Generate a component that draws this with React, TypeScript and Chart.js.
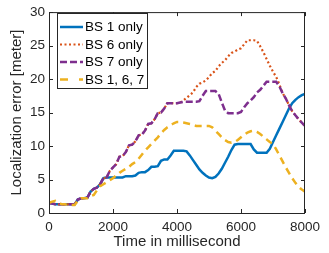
import React, { useEffect, useRef } from "react";
import { Chart, registerables } from "chart.js";

Chart.register(...registerables);

const timeMs = [
  0, 100, 200, 300, 400, 500, 600, 700, 800, 900,
  1000, 1100, 1200, 1300, 1400, 1500, 1600, 1700, 1800, 1900,
  2000, 2100, 2200, 2300, 2400, 2500, 2600, 2700, 2800, 2900,
  3000, 3100, 3200, 3300, 3400, 3500, 3600, 3700, 3800, 3900,
  4000, 4100, 4200, 4300, 4400, 4500, 4600, 4700, 4800, 4900,
  5000, 5100, 5200, 5300, 5400, 5500, 5600, 5700, 5800, 5900,
  6000, 6100, 6200, 6300, 6400, 6500, 6600, 6700, 6800, 6900,
  7000, 7100, 7200, 7300, 7400, 7500, 7600, 7700, 7800, 7900,
  8000,
];

const bs1Only = [
  1.5, 1.4, 1.3, 1.3, 1.3, 1.3, 1.3, 1.3, 1.3, 2.0,
  2.2, 2.2, 2.3, 3.2, 3.6, 3.8, 4.3, 5.2, 5.3, 5.3,
  5.3, 5.3, 5.3, 5.3, 5.5, 5.5, 5.5, 5.6, 6.0, 6.1,
  6.1, 6.4, 6.9, 6.9, 7.0, 7.8, 8.0, 8.0, 8.6, 9.3,
  9.3, 9.3, 9.3, 9.2, 8.6, 7.9, 7.2, 6.5, 6.0, 5.6,
  5.3, 5.2, 5.4, 5.9, 6.6, 7.5, 8.4, 9.4, 10.2, 10.3,
  10.3, 10.3, 10.3, 10.3, 9.5, 9.0, 9.0, 9.0, 9.0, 9.6,
  10.6, 11.6, 12.6, 13.6, 14.6, 15.6, 16.4, 16.9, 17.3, 17.6,
  17.8,
];

const bs6Only = [
  1.5, 1.4, 1.3, 1.3, 1.3, 1.3, 1.3, 1.3, 1.3, 2.0,
  2.2, 2.2, 2.3, 3.2, 3.6, 3.8, 4.3, 5.2, 5.3, 6.3,
  6.8, 7.3, 8.4, 8.5, 9.1, 10.1, 10.2, 10.7, 11.6, 11.7,
  12.3, 13.3, 13.4, 14.0, 14.9, 15.0, 15.6, 16.4, 16.4, 16.4,
  16.4, 16.5, 16.8, 17.2, 17.6, 18.0, 18.8, 19.3, 19.5, 19.8,
  20.3, 20.9, 21.2, 21.9, 22.4, 22.8, 23.4, 23.9, 24.1, 24.4,
  24.6, 25.2, 25.8, 25.8, 25.8, 25.7, 24.9, 24.0, 23.0, 22.0,
  21.1, 20.3, 19.2, 17.9, 17.1, 16.1, 15.2, 14.6, 14.0, 13.5,
  13.0,
];

const bs7Only = [
  1.5, 1.4, 1.3, 1.3, 1.3, 1.3, 1.3, 1.3, 1.3, 2.0,
  2.2, 2.2, 2.3, 3.2, 3.6, 3.8, 4.3, 5.2, 5.3, 6.3,
  6.8, 7.3, 8.4, 8.5, 9.1, 10.1, 10.2, 10.7, 11.6, 11.7,
  12.3, 13.3, 13.4, 14.0, 14.9, 15.0, 15.6, 16.4, 16.4, 16.4,
  16.4, 16.5, 16.6, 16.6, 16.6, 16.6, 16.6, 16.7, 17.5, 18.2,
  18.2, 18.2, 18.2, 17.8, 16.5, 15.3, 14.9, 14.9, 14.9, 14.9,
  15.1, 15.8, 16.4, 16.8, 17.3, 18.0, 18.4, 19.0, 19.6, 19.6,
  19.6, 19.6, 18.9, 17.9, 17.1, 16.1, 15.2, 14.6, 14.0, 13.5,
  13.0,
];

const bs167 = [
  1.5, 1.7, 1.8, 1.5, 1.3, 1.3, 1.2, 1.2, 1.2, 1.8,
  2.2, 2.2, 2.2, 2.5, 2.7, 3.4, 4.0, 4.3, 4.6, 4.9,
  5.2, 5.6, 6.0, 6.3, 6.6, 6.9, 7.3, 7.6, 8.1, 8.7,
  9.3, 9.8, 10.3, 10.8, 11.3, 11.9, 12.4, 12.8, 13.1, 13.4,
  13.6, 13.6, 13.5, 13.4, 13.3, 13.2, 13.0, 13.0, 13.0, 13.0,
  13.0, 12.8, 12.3, 11.8, 11.3, 10.9, 10.6, 10.5, 10.6, 10.9,
  11.3, 11.7, 12.0, 12.2, 12.3, 12.1, 11.8, 11.4, 11.0, 10.6,
  10.3, 9.5, 8.6, 7.7, 6.8, 6.0, 5.2, 4.5, 3.9, 3.5,
  3.2,
];

const seriesNames = ["BS 1 only", "BS 6 only", "BS 7 only", "BS 1, 6, 7"];
const xTicks = [0, 2000, 4000, 6000, 8000];
const yTicks = [0, 5, 10, 15, 20, 25, 30];

const AXIS = "#262626";
const FONT = "'Liberation Sans', Arial, Helvetica, sans-serif";

const styles = [
  { color: "#0072BD", dash: [] as number[], legendDash: [] as number[], width: 2.5, cap: "butt" },
  { color: "#D95319", dash: [2, 2.5], legendDash: [2, 2.5], width: 2.2, cap: "butt" },
  { color: "#7E2F8E", dash: [7, 3], legendDash: [7, 3], width: 2.5, cap: "butt" },
  { color: "#EDB120", dash: [7, 5], legendDash: [8, 11], width: 2.5, cap: "butt" },
];

const frameLegendPlugin = {
  id: "frameLegend",
  afterDatasetsDraw(chart: any) {
    const { ctx, chartArea, scales } = chart;
    const { left, right, top, bottom } = chartArea;
    ctx.save();
    ctx.strokeStyle = AXIS;
    ctx.lineWidth = 1;
    ctx.setLineDash([]);
    ctx.strokeRect(left + 0.5, top + 0.5, right - left - 1, bottom - top);
    const tl = 4;
    ctx.beginPath();
    for (const v of xTicks) {
      const x = Math.round(scales.x.getPixelForValue(v)) + 0.5;
      ctx.moveTo(x, bottom);
      ctx.lineTo(x, bottom - tl);
      ctx.moveTo(x, top);
      ctx.lineTo(x, top + tl);
    }
    for (const v of yTicks) {
      const y = Math.round(scales.y.getPixelForValue(v)) + 0.5;
      ctx.moveTo(left, y);
      ctx.lineTo(left + tl, y);
      ctx.moveTo(right, y);
      ctx.lineTo(right - tl, y);
    }
    ctx.stroke();
    ctx.restore();
  },
  afterDraw(chart: any) {
    const { ctx } = chart;
    ctx.save();
    const bx = 57, by = 13, bw = 90, bh = 75;
    ctx.fillStyle = "#ffffff";
    ctx.fillRect(bx, by, bw, bh);
    ctx.strokeStyle = AXIS;
    ctx.lineWidth = 1;
    ctx.setLineDash([]);
    ctx.strokeRect(bx + 0.5, by + 0.5, bw, bh);
    ctx.font = `13.5px ${FONT}`;
    ctx.textBaseline = "middle";
    ctx.textAlign = "left";
    seriesNames.forEach((name, i) => {
      const y = 27 + i * 17.5;
      const s = styles[i];
      ctx.strokeStyle = s.color;
      ctx.lineWidth = s.width;
      ctx.lineCap = s.cap;
      ctx.setLineDash(s.legendDash);
      ctx.beginPath();
      ctx.moveTo(60, y);
      ctx.lineTo(83, y);
      ctx.stroke();
      ctx.setLineDash([]);
      ctx.fillStyle = "#000000";
      ctx.fillText(name, 85, y + 0.5);
    });
    ctx.restore();
  },
};

export default function App() {
  const ref = useRef<HTMLCanvasElement | null>(null);
  useEffect(() => {
    document.body.style.margin = "0";
    if (!ref.current) return;
    const seriesData = [bs1Only, bs6Only, bs7Only, bs167];
    const chart = new Chart(ref.current, {
      type: "line",
      data: {
        datasets: seriesNames.map((name, i) => ({
          label: name,
          data: timeMs.map((t, j) => ({ x: t, y: seriesData[i][j] })),
          borderColor: styles[i].color,
          backgroundColor: styles[i].color,
          borderWidth: styles[i].width,
          borderDash: styles[i].dash,
          borderCapStyle: styles[i].cap as any,
          pointRadius: 0,
          tension: 0,
          fill: false,
          order: 4 - i,
        })),
      },
      options: {
        animation: false,
        responsive: false,
        devicePixelRatio: 1,
        layout: { padding: { left: 0, right: 24, top: 11, bottom: 0 } },
        plugins: { legend: { display: false }, tooltip: { enabled: false } },
        scales: {
          x: {
            type: "linear",
            min: 0,
            max: 8000,
            afterFit: (s: any) => { s.height = 40; },
            grid: { display: false, drawTicks: false },
            border: { display: false },
            ticks: {
              stepSize: 2000,
              padding: 6,
              color: AXIS,
              maxRotation: 0,
              font: { family: FONT, size: 13.5 },
              callback: (v: any) => String(v),
            },
            title: {
              display: true,
              text: "Time in millisecond",
              color: AXIS,
              font: { family: FONT, size: 15 },
              padding: { top: 0, bottom: 2 },
            },
          },
          y: {
            min: 0,
            max: 30,
            afterFit: (s: any) => { s.width = 49; },
            grid: { display: false, drawTicks: false },
            border: { display: false },
            ticks: {
              stepSize: 5,
              padding: 4,
              color: AXIS,
              font: { family: FONT, size: 13.5 },
              callback: (v: any) => String(v),
            },
            title: {
              display: true,
              text: "Localization error [meter]",
              color: AXIS,
              font: { family: FONT, size: 15 },
              padding: { top: 8, bottom: 0 },
            },
          },
        },
      },
      plugins: [frameLegendPlugin],
    });
    return () => chart.destroy();
  }, []);
  return (
    <div style={{ position: "absolute", left: 0, top: 0, width: 329, height: 253 }}>
      <canvas ref={ref} width={329} height={253} />
    </div>
  );
}
